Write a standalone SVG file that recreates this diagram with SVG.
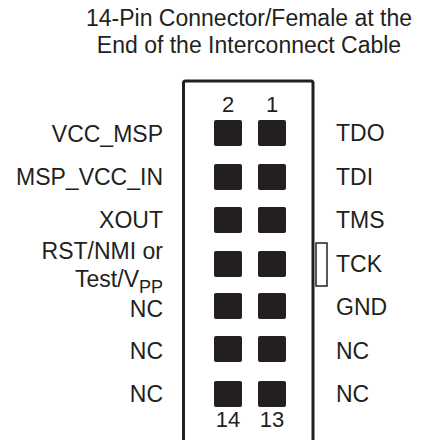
<svg xmlns="http://www.w3.org/2000/svg" width="425" height="440" viewBox="0 0 425 440">
<style>
text{font-family:"Liberation Sans",Arial,sans-serif;font-size:23px;fill:#231f20}
.l{text-anchor:end}
.c{text-anchor:middle}
.n{font-size:22px}
.pin{fill:#231f20}
.sub{font-size:18px}
</style>
<rect width="425" height="440" fill="#fff"/>
<g id="title">
<text class="c" x="249" y="26">14-Pin Connector/Female at the</text>
<text class="c" x="249" y="53">End of the Interconnect Cable</text>
</g>
<g id="connector">
<rect x="316" y="243" width="11" height="43" fill="#fff" stroke="#231f20" stroke-width="1.5"/>
<path d="M183.5 445 V83 a2 2 0 0 1 2 -2 H311 a2 2 0 0 1 2 2 V445" fill="#fff" stroke="#231f20" stroke-width="3"/>
<text class="c n" x="228" y="112">2</text>
<text class="c n" x="272" y="112">1</text>
<text class="c n" x="228" y="427">14</text>
<text class="c n" x="272" y="427">13</text>
<g id="pins">
<rect class="pin" x="214" y="120" width="28" height="26" rx="2"/>
<rect class="pin" x="258" y="120" width="28" height="26" rx="2"/>
<rect class="pin" x="214" y="164" width="28" height="26" rx="2"/>
<rect class="pin" x="258" y="164" width="28" height="26" rx="2"/>
<rect class="pin" x="214" y="207" width="28" height="26" rx="2"/>
<rect class="pin" x="258" y="207" width="28" height="26" rx="2"/>
<rect class="pin" x="214" y="251" width="28" height="26" rx="2"/>
<rect class="pin" x="258" y="251" width="28" height="26" rx="2"/>
<rect class="pin" x="214" y="293" width="28" height="26" rx="2"/>
<rect class="pin" x="258" y="293" width="28" height="26" rx="2"/>
<rect class="pin" x="214" y="336" width="28" height="26" rx="2"/>
<rect class="pin" x="258" y="336" width="28" height="26" rx="2"/>
<rect class="pin" x="214" y="381" width="28" height="26" rx="2"/>
<rect class="pin" x="258" y="381" width="28" height="26" rx="2"/>
</g>
</g>
<g id="left-labels">
<text class="l" x="163" y="142">VCC_MSP</text>
<text class="l" x="163" y="185">MSP_VCC_IN</text>
<text class="l" x="163" y="228">XOUT</text>
<text class="l" x="163" y="259">RST/NMI or</text>
<text class="l" x="163" y="287">Test/V<tspan class="sub" dy="6">PP</tspan></text>
<text class="l" x="163" y="317">NC</text>
<text class="l" x="163" y="359">NC</text>
<text class="l" x="163" y="402">NC</text>
</g>
<g id="right-labels">
<text x="336" y="141">TDO</text>
<text x="336" y="185">TDI</text>
<text x="336" y="228">TMS</text>
<text x="336" y="272">TCK</text>
<text x="336" y="315">GND</text>
<text x="336" y="359">NC</text>
<text x="336" y="402">NC</text>
</g>
</svg>
